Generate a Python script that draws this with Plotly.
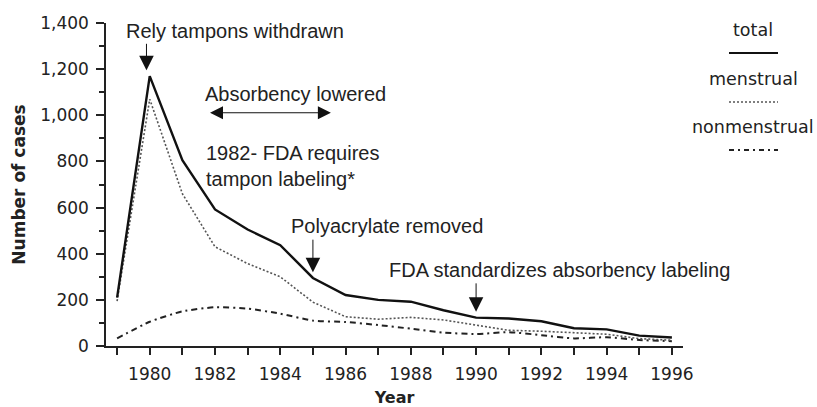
import plotly.graph_objects as go

years = list(range(1979, 1997))
total = [210, 1170, 805, 592, 505, 437, 295, 221, 200, 192, 155, 123, 119, 107, 77, 72, 45, 37]
menstrual = [195, 1070, 660, 430, 357, 300, 190, 127, 116, 124, 113, 90, 68, 64, 57, 51, 32, 25]
nonmenstrual = [33, 105, 150, 168, 162, 140, 110, 104, 91, 75, 58, 52, 60, 47, 33, 38, 26, 21]
x_tickvals = years
x_ticktext = [str(y) if y % 2 == 0 else "" for y in years]
y_tickvals = [0, 200, 400, 600, 800, 1000, 1200, 1400]
y_ticktext = ["0", "200", "400", "600", "800", "1,000", "1,200", "1,400"]

fig = go.Figure()
fig.add_trace(go.Scatter(x=years, y=nonmenstrual, mode="lines", name="nonmenstrual",
                         line=dict(color="#222", width=2, dash="6px,4px,2px,4px", shape="spline", smoothing=0.6)))
fig.add_trace(go.Scatter(x=years, y=menstrual, mode="lines", name="menstrual",
                         line=dict(color="#555", width=1.6, dash="2px,2px")))
fig.add_trace(go.Scatter(x=years, y=total, mode="lines", name="total",
                         line=dict(color="#111", width=2.4)))

ann_font = dict(family="Liberation Sans, Arial, sans-serif", size=20, color="#222")
arrow = dict(text="", showarrow=True, arrowhead=2, arrowsize=2.9, arrowwidth=1, arrowcolor="#111")
annotations = [
    dict(x=1982.6, y=1365, text="Rely tampons withdrawn", showarrow=False, font=ann_font),
    dict(x=1979.9, y=1195, ax=0, ay=-28, **arrow),
    dict(x=1984.46, y=1094, text="Absorbency lowered", showarrow=False, font=ann_font),
    dict(x=1985.55, y=1011, ax=1981.8, ay=1011, axref="x", ayref="y", text="", showarrow=True,
         arrowhead=2, startarrowhead=2, arrowside="end+start", arrowsize=2.6, startarrowsize=2.6,
         arrowwidth=1, arrowcolor="#111"),
    dict(x=1981.65, y=779, text="1982- FDA requires<br>tampon labeling*", showarrow=False,
         font=ann_font, align="left", xanchor="left", yanchor="middle"),
    dict(x=1987.27, y=521, text="Polyacrylate removed", showarrow=False, font=ann_font),
    dict(x=1985.0, y=320, ax=0, ay=-34, **arrow),
    dict(x=1992.57, y=330, text="FDA standardizes absorbency labeling", showarrow=False, font=ann_font),
    dict(x=1990.0, y=148, ax=0, ay=-30, **arrow),
]

# custom legend
leg_font = dict(family="DejaVu Sans, sans-serif", size=17.5, color="#222")
pw, ph, l, t = 577, 323, 106, 23
def px(xp):
    return (xp - l) / pw
def py(yp):
    return 1 - (yp - t) / ph
legend_items = [("total", 30, 53, dict(color="#111", width=2)),
                ("menstrual", 79, 102, dict(color="#555", width=1.3, dash="2px,2px")),
                ("nonmenstrual", 127, 150, dict(color="#222", width=2, dash="5px,4px,2px,4px"))]
shapes = []
for name, ty, ly, ln in legend_items:
    annotations.append(dict(xref="paper", yref="paper", x=px(753), y=py(ty), text=name,
                            xanchor="center", yanchor="middle", showarrow=False, font=leg_font))
    shapes.append(dict(type="line", xref="paper", yref="paper", x0=px(729), x1=px(778),
                       y0=py(ly), y1=py(ly), line=ln))

fig.update_layout(
    width=817, height=407,
    margin=dict(l=106, r=134, t=23, b=61),
    plot_bgcolor="white", paper_bgcolor="white",
    showlegend=False,
    annotations=annotations,
    shapes=shapes,
    font=dict(family="DejaVu Sans, sans-serif", size=16, color="#222"),
)
fig.update_xaxes(range=[1978.66, 1996.34], tickvals=x_tickvals, ticktext=x_ticktext, automargin=False,
                 ticks="outside", ticklen=7, tickwidth=1.5, tickcolor="#222", ticklabelstandoff=5,
                 showline=True, linecolor="#222", linewidth=1.5, showgrid=False, zeroline=False,
                 title=dict(text="<b>Year</b>", font=dict(family="DejaVu Sans, sans-serif", size=16), standoff=9),
                 tickfont=dict(family="DejaVu Sans, sans-serif", size=17))
fig.update_yaxes(range=[0, 1400], tickvals=y_tickvals, ticktext=y_ticktext, automargin=False,
                 ticks="outside", ticklen=8, tickwidth=1.5, tickcolor="#222", ticklabelstandoff=4,
                 minor=dict(dtick=100, tick0=0, ticks="outside", ticklen=5, tickwidth=1.5, tickcolor="#222"),
                 showline=True, linecolor="#222", linewidth=1.5, showgrid=False, zeroline=False,
                 title=dict(text="<b>Number of cases</b>", font=dict(family="DejaVu Sans, sans-serif", size=17), standoff=10),
                 tickfont=dict(family="DejaVu Sans, sans-serif", size=17))

fig.write_html("out.html", config={"displayModeBar": False},
               post_script="document.body.style.margin='0';document.body.style.padding='0';")
